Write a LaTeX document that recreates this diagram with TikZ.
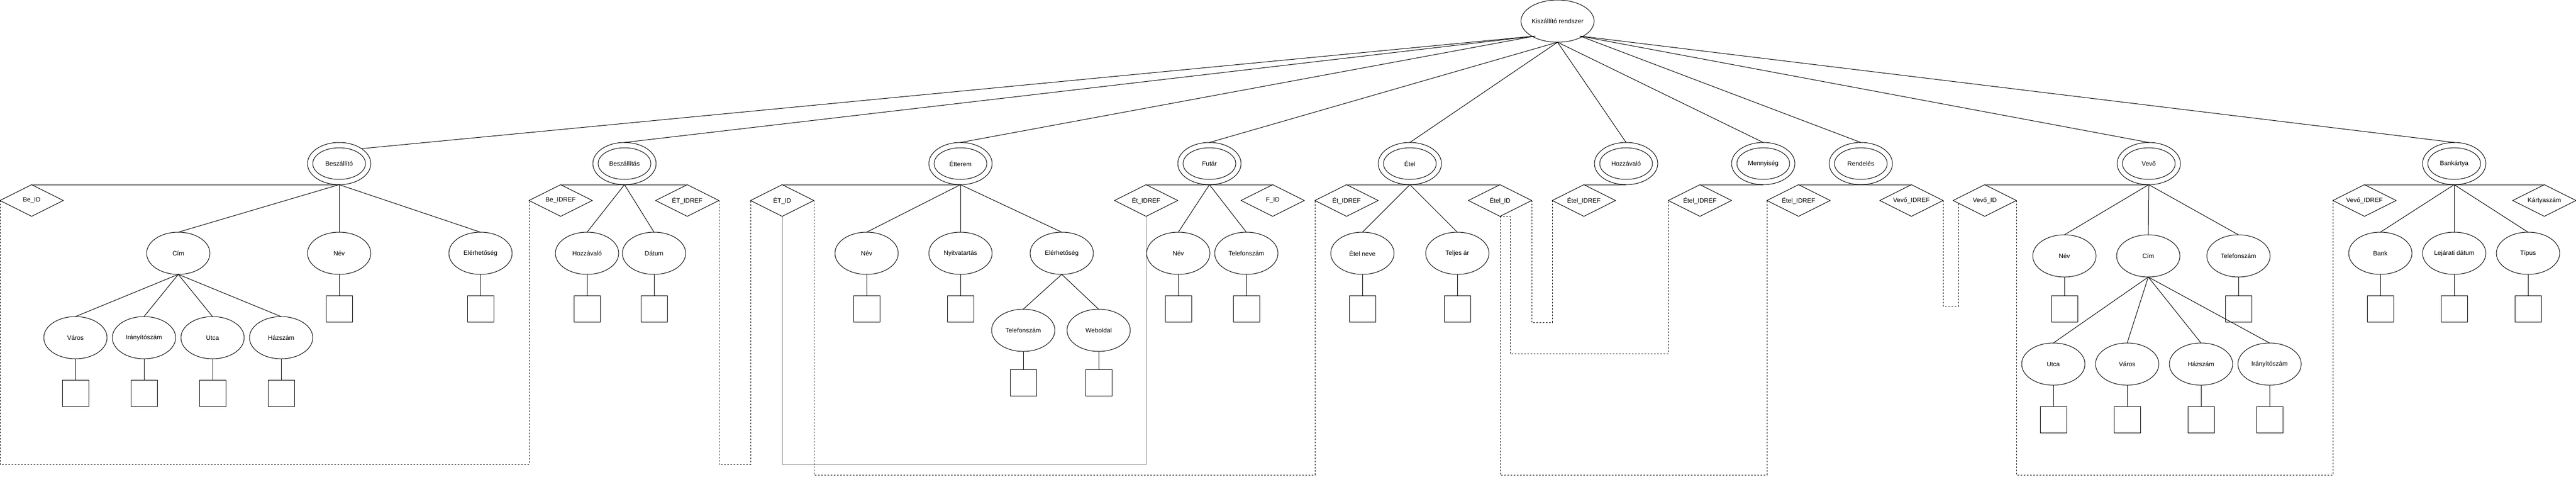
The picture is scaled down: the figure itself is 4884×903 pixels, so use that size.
\documentclass[tikz,border=0pt]{standalone}
\usepackage{fontspec}
\setmainfont{Liberation Sans}
\usetikzlibrary{shapes.geometric,calc}
\begin{document}
\begin{tikzpicture}[x=1pt,y=-1pt,line width=1pt,
  every node/.style={font=\fontsize{12}{14}\selectfont, inner sep=0pt, outer sep=0pt},
  rootent/.style={ellipse, draw, minimum width=120pt, minimum height=80pt},
  ent/.style={ellipse, draw, minimum width=120pt, minimum height=80pt,
    path picture={\draw[line width=1pt] (path picture bounding box.center) ellipse [x radius=50pt, y radius=30pt];}},
  attr/.style={ellipse, draw, minimum width=120pt, minimum height=80pt},
  keyd/.style={diamond, draw, aspect=2, minimum width=120pt, minimum height=60pt},
  val/.style={rectangle, draw, minimum width=50pt, minimum height=50pt},
  link/.style={dash pattern=on 3pt off 3pt},
  glink/.style={draw=black!45, line width=0.7pt}]
\useasboundingbox (0,0) rectangle (4884,903);

% root
\node[rootent] (root) at (2953,40) {Kiszállító rendszer};
\coordinate (rSW) at ($(root.center)+(-42.4,28.3)$);
\coordinate (rSE) at ($(root.center)+(42.4,28.3)$);

% entities
\node[ent] (besz) at (643,310) {Beszállító};
\node[ent] (beszt) at (1184,310) {Beszállítás};
\node[ent] (etterem) at (1821,310) {Étterem};
\node[ent] (futar) at (2293,310) {Futár};
\node[ent] (etel) at (2673,310) {Étel};
\node[ent] (hozz) at (3083,310) {Hozzávaló};
\node[ent] (menny) at (3343,310) {Mennyiség};
\node[ent] (rend) at (3528,310) {Rendelés};
\node[ent] (vevo) at (4074,310) {Vevő};
\node[ent] (bank) at (4653,310) {Bankártya};
\coordinate (beszNE) at ($(besz.center)+(42.4,-28.3)$);

% keys
\node[keyd] (beid) at (60,380) {Be\_ID};
\node[keyd] (beidref) at (1063,380) {Be\_IDREF};
\node[keyd] (etidref) at (1303,380) {ÉT\_IDREF};
\node[keyd] (etid) at (1483,380) {ÉT\_ID};
\node[keyd] (fetidref) at (2173,380) {Ét\_IDREF};
\node[keyd] (fid) at (2413,380) {F\_ID};
\node[keyd] (eetidref) at (2553,380) {Ét\_IDREF};
\node[keyd] (etelid) at (2844,380) {Étel\_ID};
\node[keyd] (hetelidref) at (3003,380) {Étel\_IDREF};
\node[keyd] (metelidref) at (3223,380) {Étel\_IDREF};
\node[keyd] (retelidref) at (3410,380) {Étel\_IDREF};
\node[keyd] (rvevoidref) at (3624,380) {Vevő\_IDREF};
\node[keyd] (vevoid) at (3763,380) {Vevő\_ID};
\node[keyd] (bvevoidref) at (4483,380) {Vevő\_IDREF};
\node[keyd] (kartya) at (4824,380) {Kártyaszám};

% Beszállító attributes
\node[attr] (cim1) at (338,480) {Cím};
\node[attr] (nev1) at (643,480) {Név};
\node[attr] (elerh1) at (911,480) {Elérhetőség};
\node[attr] (varos1) at (143,640) {Város};
\node[attr] (irsz1) at (273,640) {Irányítószám};
\node[attr] (utca1) at (403,640) {Utca};
\node[attr] (hsz1) at (533,640) {Házszám};
\node[val] (vnev1) at (643,585) {};
\node[val] (velerh1) at (911,585) {};
\node[val] (vvaros1) at (143,745) {};
\node[val] (virsz1) at (273,745) {};
\node[val] (vutca1) at (403,745) {};
\node[val] (vhsz1) at (533,745) {};

% Beszállítás attributes
\node[attr] (hozzav) at (1113,480) {Hozzávaló};
\node[attr] (datum) at (1240,480) {Dátum};
\node[val] (vhozzav) at (1113,585) {};
\node[val] (vdatum) at (1240,585) {};

% Étterem attributes
\node[attr] (nev2) at (1643,480) {Név};
\node[attr] (nyitva) at (1821,480) {Nyitvatartás};
\node[attr] (elerh2) at (2013,480) {Elérhetőség};
\node[attr] (tel2) at (1940,626) {Telefonszám};
\node[attr] (web2) at (2083,626) {Weboldal};
\node[val] (vnev2) at (1643,585) {};
\node[val] (vnyitva) at (1821,585) {};
\node[val] (vtel2) at (1940,725) {};
\node[val] (vweb2) at (2083,725) {};

% Futár attributes
\node[attr] (nev3) at (2234,480) {Név};
\node[attr] (tel3) at (2363,480) {Telefonszám};
\node[val] (vnev3) at (2234,585) {};
\node[val] (vtel3) at (2363,585) {};

% Étel attributes
\node[attr] (etelneve) at (2583,480) {Étel neve};
\node[attr] (teljesar) at (2763,480) {Teljes ár};
\node[val] (vetelneve) at (2583,585) {};
\node[val] (vteljesar) at (2763,585) {};

% Vevő attributes
\node[attr] (nev4) at (3914,485) {Név};
\node[attr] (cim4) at (4073,485) {Cím};
\node[attr] (tel4) at (4244,485) {Telefonszám};
\node[attr] (utca4) at (3893,690) {Utca};
\node[attr] (varos4) at (4033,690) {Város};
\node[attr] (hsz4) at (4173,690) {Házszám};
\node[attr] (irsz4) at (4303,690) {Irányítószám};
\node[val] (vnev4) at (3914,585) {};
\node[val] (vtel4) at (4244,585) {};
\node[val] (vutca4) at (3893,795) {};
\node[val] (vvaros4) at (4033,795) {};
\node[val] (vhsz4) at (4173,795) {};
\node[val] (virsz4) at (4303,795) {};

% Bankártya attributes
\node[attr] (bankattr) at (4513,480) {Bank};
\node[attr] (lejarat) at (4653,480) {Lejárati dátum};
\node[attr] (tipus) at (4793,480) {Típus};
\node[val] (vbankattr) at (4513,585) {};
\node[val] (vlejarat) at (4653,585) {};
\node[val] (vtipus) at (4793,585) {};

% root connectors
\draw (rSW) -- (beszNE);
\draw (rSW) -- (beszt.north);
\draw (rSW) -- (etterem.north);
\draw (root.south) -- (futar.north);
\draw (root.south) -- (etel.north);
\draw (root.south) -- (hozz.north);
\draw (root.south) -- (menny.north);
\draw (rSE) -- (rend.north);
\draw (rSE) -- (vevo.north);
\draw (rSE) -- (bank.north);

% key bars
\draw (beid.north) -- (besz.south);
\draw (beidref.north) -- (etidref.north);
\draw (etid.north) -- (etterem.south);
\draw (fetidref.north) -- (fid.north);
\draw (eetidref.north) -- (etelid.north);
\draw (hetelidref.north) -- (hozz.south);
\draw (metelidref.north) -- (menny.south);
\draw (retelidref.north) -- (rvevoidref.north);
\draw (vevoid.north) -- (vevo.south);
\draw (bvevoidref.north) -- (kartya.north);

% entity -> attribute
\foreach \a/\b in {besz/cim1,besz/nev1,besz/elerh1,cim1/varos1,cim1/irsz1,cim1/utca1,cim1/hsz1,
  beszt/hozzav,beszt/datum,
  etterem/nev2,etterem/nyitva,etterem/elerh2,elerh2/tel2,elerh2/web2,
  futar/nev3,futar/tel3,
  etel/etelneve,etel/teljesar,
  vevo/nev4,vevo/cim4,vevo/tel4,cim4/utca4,cim4/varos4,cim4/hsz4,cim4/irsz4,
  bank/bankattr,bank/lejarat,bank/tipus}
  \draw (\a.south) -- (\b.north);

% attribute -> value
\foreach \a in {nev1,elerh1,varos1,irsz1,utca1,hsz1,hozzav,datum,nev2,nyitva,tel2,web2,
  nev3,tel3,etelneve,teljesar,nev4,tel4,utca4,varos4,hsz4,irsz4,bankattr,lejarat,tipus}
  \draw (\a.south) -- (v\a.north);

% key references
\coordinate (vevoidIn) at ($(vevoid.west)+(10,5)$);
\draw[link] (beid.west) -- ++(0,500) -| (beidref.west);
\draw[link] (etidref.east) -- ++(0,500) -| (etid.west);
\draw[glink] (fetidref.south) -- ++(0,470) -| (etid.south);
\draw[link] (etid.east) -- ++(0,520) -| (eetidref.west);
\draw[link] (etelid.east) -- ++(0,231) -| (hetelidref.west);
\draw[link] (etelid.south) -- ++(19,0) -- ++(0,260) -| (metelidref.west);
\draw[link] (etelid.south) -- ++(0,490) -| (retelidref.west);
\draw[link] (rvevoidref.east) -- ++(0,200) -| (vevoidIn);
\draw[link] (vevoid.east) -- ++(0,520) -| (bvevoidref.west);
\end{tikzpicture}
\end{document}
